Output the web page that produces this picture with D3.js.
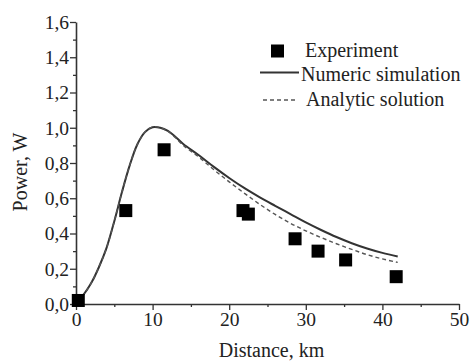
<!DOCTYPE html>
<html>
<head>
<meta charset="utf-8">
<script src="https://cdn.jsdelivr.net/npm/d3@7"></script>
<style>
  body { margin: 0; background: #fff; }
  svg text { font-family: "Liberation Serif", "Times New Roman", serif; fill: #222; }
</style>
</head>
<body>
<div id="chart"></div>
<script>
// experiment points
var expDistance = [0.3, 6.5, 11.5, 21.8, 22.5, 28.6, 31.6, 35.2, 41.8];
var expPower    = [0.02, 0.53, 0.875, 0.53, 0.51, 0.37, 0.30, 0.25, 0.155];

// curves
var curveDistance = [0, 1, 2, 3, 4, 5, 6, 7, 8, 9, 10, 11, 12, 13, 14, 16, 18, 20, 22, 24, 26, 28, 30, 32, 34, 36, 38, 40, 42];
var numericPower  = [0.02, 0.055, 0.12, 0.21, 0.32, 0.47, 0.635, 0.785, 0.905, 0.975, 1.003, 1.0, 0.982, 0.948, 0.908, 0.845, 0.778, 0.715, 0.657, 0.605, 0.557, 0.51, 0.463, 0.42, 0.38, 0.345, 0.315, 0.29, 0.27];
var analyticPower = [0.02, 0.055, 0.12, 0.21, 0.32, 0.47, 0.635, 0.785, 0.905, 0.975, 1.005, 1.0, 0.98, 0.943, 0.90, 0.835, 0.762, 0.693, 0.628, 0.565, 0.508, 0.458, 0.415, 0.377, 0.342, 0.31, 0.28, 0.256, 0.236];

var xTicks = [0, 10, 20, 30, 40, 50];
var yTicks = [0, 0.2, 0.4, 0.6, 0.8, 1.0, 1.2, 1.4, 1.6];

var legendLabels = ["Experiment", "Numeric simulation", "Analytic solution"];

var width = 472, height = 361;
var margin = {top: 22, right: 13, bottom: 57, left: 76};

var svg = d3.select("#chart").append("svg")
  .attr("width", width)
  .attr("height", height);

var x = d3.scaleLinear().domain([0, 50]).range([margin.left, width - margin.right]);
var y = d3.scaleLinear().domain([0, 1.6]).range([height - margin.bottom, margin.top]);

var fmt = function(d) { return d3.format(".1f")(d).replace(".", ","); };

// minor ticks
svg.append("g")
  .attr("transform", "translate(0," + y(0) + ")")
  .call(d3.axisBottom(x).tickValues(d3.range(5, 50, 10)).tickSize(3).tickFormat(""))
  .call(function(g) { g.select(".domain").remove(); g.selectAll("line").attr("stroke", "#333").attr("stroke-width", 1.3); });

svg.append("g")
  .attr("transform", "translate(" + x(0) + ",0)")
  .call(d3.axisLeft(y).tickValues(d3.range(0.1, 1.6, 0.2)).tickSize(3).tickFormat(""))
  .call(function(g) { g.select(".domain").remove(); g.selectAll("line").attr("stroke", "#333").attr("stroke-width", 1.3); });

// main axes
var xAxis = svg.append("g")
  .attr("transform", "translate(0," + y(0) + ")")
  .call(d3.axisBottom(x).tickValues(xTicks).tickSize(6).tickSizeOuter(0).tickPadding(2));

var yAxis = svg.append("g")
  .attr("transform", "translate(" + x(0) + ",0)")
  .call(d3.axisLeft(y).tickValues(yTicks).tickSize(6).tickSizeOuter(0).tickPadding(1).tickFormat(fmt));

[xAxis, yAxis].forEach(function(g) {
  g.select(".domain").attr("stroke", "#333").attr("stroke-width", 1.6);
  g.selectAll(".tick line").attr("stroke", "#333").attr("stroke-width", 1.3);
  g.selectAll(".tick text")
    .style("font-family", "'Liberation Serif', serif")
    .style("font-size", "19.5px")
    .attr("fill", "#222");
});

// axis titles
svg.append("text")
  .attr("x", (x(0) + x(50)) / 2 + 4)
  .attr("y", 357)
  .attr("text-anchor", "middle")
  .style("font-size", "20px")
  .text("Distance, km");

svg.append("text")
  .attr("transform", "translate(27," + 172 + ") rotate(-90)")
  .attr("text-anchor", "middle")
  .style("font-size", "20px")
  .text("Power, W");

// curves
var line = d3.line()
  .x(function(d) { return x(d[0]); })
  .y(function(d) { return y(d[1]); })
  .curve(d3.curveCatmullRom.alpha(0.5));

svg.append("path")
  .datum(d3.zip(curveDistance, numericPower))
  .attr("fill", "none")
  .attr("stroke", "#333")
  .attr("stroke-width", 2)
  .attr("d", line);

svg.append("path")
  .datum(d3.zip(curveDistance, analyticPower))
  .attr("fill", "none")
  .attr("stroke", "#555")
  .attr("stroke-width", 1.4)
  .attr("stroke-dasharray", "4,3")
  .attr("d", line);

// experiment squares
var sq = 13;
svg.append("g").selectAll("rect")
  .data(d3.zip(expDistance, expPower))
  .enter().append("rect")
  .attr("x", function(d) { return x(d[0]) - sq / 2; })
  .attr("y", function(d) { return y(d[1]) - sq / 2; })
  .attr("width", sq)
  .attr("height", sq)
  .attr("fill", "#000");

// legend
var legend = svg.append("g");
var rows = [51, 75, 100];

legend.append("rect")
  .attr("x", 271).attr("y", rows[0] - 6.5)
  .attr("width", 13).attr("height", 13)
  .attr("fill", "#000");

legend.append("line")
  .attr("x1", 260).attr("x2", 299)
  .attr("y1", rows[1] - 2.5).attr("y2", rows[1] - 2.5)
  .attr("stroke", "#333").attr("stroke-width", 2);

legend.append("line")
  .attr("x1", 263).attr("x2", 298)
  .attr("y1", rows[2]).attr("y2", rows[2])
  .attr("stroke", "#555").attr("stroke-width", 1.4)
  .attr("stroke-dasharray", "4,3");

legend.selectAll("text.lbl")
  .data(legendLabels)
  .enter().append("text")
  .attr("class", "lbl")
  .attr("x", function(d, i) { return [305, 301, 306][i]; })
  .attr("y", function(d, i) { return rows[i] + 6; })
  .style("font-size", "20px")
  .text(function(d) { return d; });
</script>
</body>
</html>
